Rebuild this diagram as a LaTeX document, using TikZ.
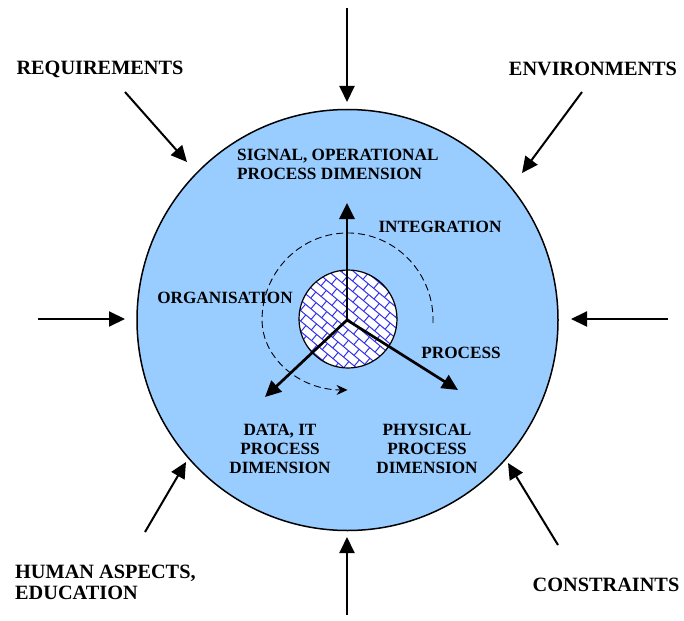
\documentclass[tikz,border=0pt]{standalone}
\usepackage{fontspec}
\setmainfont{Liberation Serif}
\usetikzlibrary{arrows.meta}
\definecolor{circblue}{RGB}{153,204,255}
\definecolor{hatch}{RGB}{50,50,235}
\begin{document}
\begin{tikzpicture}[x=1pt,y=-1pt,
  lbl/.style={font=\fontsize{20.3}{21}\selectfont\bfseries, inner sep=0pt},
  ilbl/.style={font=\fontsize{17.2}{19}\selectfont\bfseries, inner sep=0pt, align=center},
  bigarrow/.style={line width=2pt, -{Triangle[length=16pt,width=15pt]}},
  axisarrow/.style={line width=2.7pt, -{Triangle[length=16pt,width=15pt]}},
  hatchline/.style={hatch, line width=1pt}]
\useasboundingbox (0,0) rectangle (684,620);
% big circle
\node[circle, draw, line width=1.5pt, fill=circblue, minimum size=421pt, inner sep=0pt] (big) at (347.5,320) {};
% core with pattern
\node[circle, minimum size=98pt, inner sep=0pt, fill=white] (core) at (348,319) {};
\begin{scope}
  \clip (core.center) circle (49pt);
  \begin{scope}[shift={(348,319)}, rotate=-40]
    \foreach \k in {-7,...,7} {
      \draw[hatchline] (-70,{\k*8}) -- (70,{\k*8});
      \foreach \j in {-6,...,6} {
        \pgfmathsetmacro\xx{\j*14 + mod(abs(\k),2)*7}
        \draw[hatchline] ({\xx},{\k*8}) -- ({\xx},{\k*8+8});
      }
    }
  \end{scope}
\end{scope}
\draw[line width=1.2pt] (core.center) circle (49pt);
% axes
\coordinate (o) at (347,320);
\coordinate (up) at (347,203);
\coordinate (dl) at (265,397);
\coordinate (dr) at (458,390);
\draw[axisarrow] (o) -- (up);
\draw[axisarrow] (o) -- (dl);
\draw[axisarrow] (o) -- (dr);
% dashed rotation arc
\coordinate (arcstart) at (433,323);
\draw[line width=0.9pt, dash pattern=on 7pt off 4pt, -{Stealth[length=11pt,width=10pt]}]
  (arcstart) arc[start angle=2, end angle=-180, x radius=85.5, y radius=87]
  arc[start angle=180, end angle=90, x radius=85.5, y radius=70];
% outer arrows
\coordinate (t0) at (347,8);    \coordinate (t1) at (347,102);
\coordinate (b0) at (347,615);  \coordinate (b1) at (347,537);
\coordinate (l0) at (38,319);   \coordinate (l1) at (125,319);
\coordinate (r0) at (668,319);  \coordinate (r1) at (571,319);
\coordinate (q0) at (125,92);   \coordinate (q1) at (187,162);
\coordinate (e0) at (582,92);   \coordinate (e1) at (522,173);
\coordinate (h0) at (145,532);  \coordinate (h1) at (186,462);
\coordinate (c0) at (558,545);  \coordinate (c1) at (508,463);
\foreach \a in {t,b,l,r,q,e,h,c} { \draw[bigarrow] (\a0) -- (\a1); }
% outer labels
\node[lbl] (req) at (100,69) {REQUIREMENTS};
\node[lbl] (env) at (593,69) {ENVIRONMENTS};
\node[lbl, anchor=west, align=left] (hum) at (15,582) {HUMAN ASPECTS,\\EDUCATION};
\node[lbl] (con) at (606,585) {CONSTRAINTS};
% inner labels
\node[ilbl, anchor=west, align=left] (sig) at (237,164) {SIGNAL, OPERATIONAL\\PROCESS DIMENSION};
\node[ilbl] (integ) at (440,227) {INTEGRATION};
\node[ilbl] (org) at (225,298) {ORGANISATION};
\node[ilbl] (proc) at (461,353) {PROCESS};
\node[ilbl] (data) at (280,449) {DATA, IT\\PROCESS\\DIMENSION};
\node[ilbl] (phys) at (427,449) {PHYSICAL\\PROCESS\\DIMENSION};
\end{tikzpicture}
\end{document}
